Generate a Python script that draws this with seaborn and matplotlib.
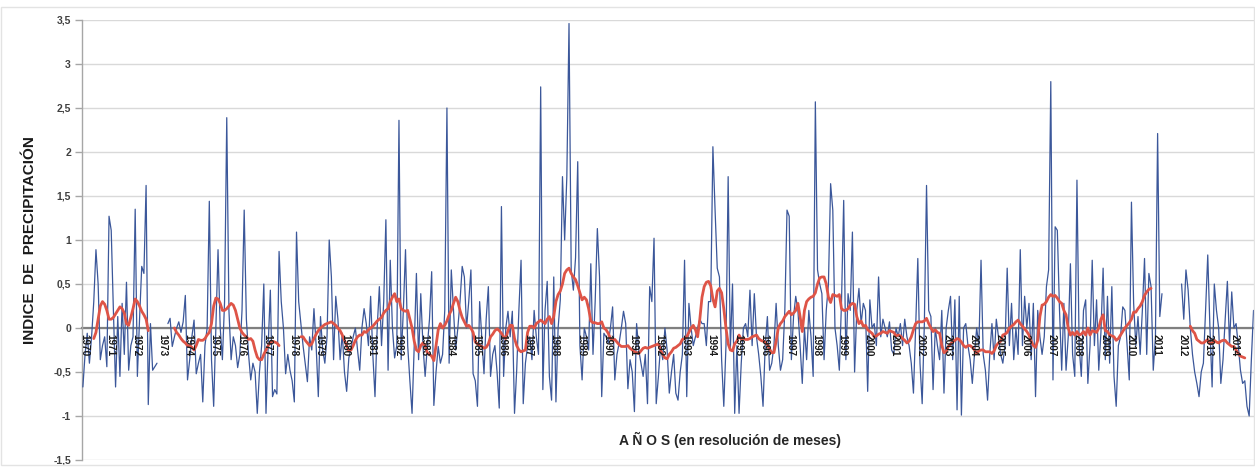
import numpy as np
import pandas as pd
import matplotlib
matplotlib.use("Agg")
import matplotlib.pyplot as plt
import seaborn as sns
from matplotlib import font_manager as fm
from matplotlib.patches import Rectangle

nan = float("nan")

# ---------------- data: monthly precipitation index (blue) ----------------
ind_1970 = [-0.67, -0.3, -0.06, -0.4, -0.1, 0.3, 0.89, 0.5, -0.36, -0.2, -0.1, -0.44]
ind_1971 = [1.27, 1.11, 0.2, -0.67, 0.13, -0.55, 0.28, -0.3, 0.52, -0.48, -0.2, -0.1]
ind_1972 = [1.35, -0.55, 0.1, 0.7, 0.62, 1.62, -0.87, 0.05, -0.48, -0.44, -0.4, nan]
ind_1973 = [nan, nan, nan, 0.05, 0.11, -0.21, -0.1, 0.0, 0.07, -0.05, 0.07, 0.37]
ind_1974 = [-0.59, -0.36, -0.1, 0.09, -0.52, -0.4, -0.3, -0.84, -0.2, 0.0, 1.44, -0.36]
ind_1975 = [-0.89, 0.0, 0.89, 0.0, -0.36, 0.3, 2.39, 0.2, -0.36, -0.1, -0.2, -0.45]
ind_1976 = [-0.3, 0.2, 1.34, 0.1, -0.3, -0.59, -0.4, -0.5, -0.97, -0.5, -0.2, 0.5]
ind_1977 = [-0.97, -0.2, 0.43, -0.78, -0.7, -0.75, 0.87, 0.3, 0.0, -0.52, -0.3, -0.48]
ind_1978 = [-0.6, -0.84, 1.09, 0.3, 0.05, -0.2, -0.4, -0.61, -0.1, -0.25, 0.22, -0.2]
ind_1979 = [-0.78, 0.13, -0.25, -0.4, -0.1, 1.0, 0.58, -0.36, 0.36, 0.1, -0.36, -0.06]
ind_1980 = [-0.5, -0.72, -0.34, -0.23, -0.1, 0.0, -0.25, -0.48, 0.0, 0.22, 0.05, -0.2]
ind_1981 = [0.36, -0.3, -0.78, 0.0, 0.47, -0.2, 0.3, 1.23, -0.48, 0.77, 0.0, -0.34]
ind_1982 = [-0.2, 2.36, -0.36, 0.2, 0.89, -0.2, -0.6, -0.97, -0.2, 0.62, -0.36, 0.39]
ind_1983 = [-0.2, -0.55, -0.21, 0.1, 0.64, -0.88, -0.5, -0.21, -0.4, -0.3, 0.2, 2.5]
ind_1984 = [-0.4, 0.66, 0.2, -0.25, 0.0, 0.3, 0.7, 0.58, 0.0, 0.3, 0.66, -0.52]
ind_1985 = [-0.6, -0.89, 0.3, -0.1, -0.52, 0.1, 0.47, -0.55, -0.3, -0.2, -0.5, -0.91]
ind_1986 = [1.38, -0.55, 0.0, 0.19, -0.1, 0.19, -0.97, -0.48, 0.2, 0.77, -0.86, -0.4]
ind_1987 = [-0.2, -0.1, -0.36, 0.2, -0.1, -0.3, 2.74, -0.7, 0.2, 0.53, -0.55, -0.82]
ind_1988 = [0.58, -0.84, 0.0, 0.32, 1.72, 1.0, 1.72, 3.46, 0.66, 0.43, 0.8, 1.89]
ind_1989 = [-0.2, -0.59, 0.0, -0.1, -0.25, 0.73, -0.3, 0.3, 1.13, 0.58, -0.78, -0.06]
ind_1990 = [-0.1, -0.17, 0.0, 0.24, -0.59, -0.3, -0.17, 0.0, 0.19, 0.05, -0.69, -0.36]
ind_1991 = [-0.5, -0.95, 0.05, -0.25, -0.4, -0.55, -0.3, -0.86, 0.47, 0.3, 1.02, -0.86]
ind_1992 = [-0.55, -0.2, -0.36, 0.0, -0.25, -0.74, -0.5, -0.3, -0.74, -0.82, -0.5, -0.3]
ind_1993 = [0.77, -0.78, 0.28, 0.0, -0.2, -0.1, 0.0, 0.1, 0.05, 0.05, -0.2, 0.3]
ind_1994 = [0.3, 2.06, 1.34, 0.68, 0.58, -0.36, -0.89, -0.2, 1.72, -0.25, 0.5, -0.97]
ind_1995 = [-0.2, -0.97, -0.4, 0.0, 0.05, -0.1, 0.43, -0.2, 0.39, -0.1, -0.3, -0.55]
ind_1996 = [-0.89, -0.2, 0.13, -0.48, -0.4, -0.2, 0.28, -0.2, -0.48, -0.36, 0.2, 1.34]
ind_1997 = [1.27, -0.36, 0.13, 0.36, 0.2, -0.2, -0.63, 0.0, -0.36, 0.2, -0.1, -0.55]
ind_1998 = [2.57, 0.66, 0.5, 0.39, -0.36, 0.2, 0.5, 1.64, 1.34, 0.0, -0.2, -0.48]
ind_1999 = [0.3, 1.45, -0.36, 0.39, 0.2, 1.09, -0.5, 0.2, 0.45, 0.05, 0.28, 0.2]
ind_2000 = [-0.72, 0.32, 0.0, 0.05, -0.2, 0.58, -0.1, 0.1, 0.0, -0.1, 0.07, -0.25]
ind_2001 = [-0.3, 0.0, -0.1, 0.05, -0.2, 0.1, -0.1, -0.2, -0.4, -0.74, 0.0, 0.79]
ind_2002 = [-0.4, -0.86, 0.05, 1.62, 0.2, 0.13, -0.7, 0.0, -0.2, -0.36, 0.2, -0.74]
ind_2003 = [0.0, 0.2, 0.36, -0.36, 0.32, -0.93, 0.36, -0.99, 0.0, 0.05, -0.2, -0.36]
ind_2004 = [-0.63, -0.3, 0.0, -0.2, 0.77, -0.3, -0.48, -0.82, -0.3, 0.05, -0.36, 0.1]
ind_2005 = [-0.1, -0.3, -0.4, -0.2, 0.68, -0.2, 0.28, -0.36, 0.0, -0.3, 0.89, -0.2]
ind_2006 = [0.36, 0.0, 0.28, -0.36, 0.28, -0.78, 0.2, -0.1, -0.3, -0.1, 0.47, 0.66]
ind_2007 = [2.8, -0.59, 1.15, 1.11, 0.2, -0.48, 0.28, -0.48, -0.1, 0.73, -0.3, -0.55]
ind_2008 = [1.68, -0.2, -0.55, 0.2, 0.32, -0.63, -0.2, 0.77, -0.2, 0.32, -0.48, -0.05]
ind_2009 = [0.68, -0.36, 0.36, -0.4, 0.47, -0.55, -0.89, -0.2, -0.1, 0.24, 0.2, -0.2]
ind_2010 = [-0.59, 1.43, 0.28, -0.2, 0.13, -0.3, 0.2, 0.79, -0.3, 0.62, 0.47, -0.48]
ind_2011 = [-0.1, 2.21, 0.13, 0.39, nan, nan, nan, nan, nan, nan, nan, nan]
ind_2012 = [0.5, 0.1, 0.66, 0.43, 0.0, -0.3, -0.5, -0.63, -0.78, -0.5, -0.4, 0.2]
ind_2013 = [0.83, 0.0, -0.67, 0.5, 0.2, 0.0, -0.63, -0.36, 0.1, 0.53, -0.2, 0.41]
ind_2014 = [0.0, 0.05, -0.2, -0.48, -0.63, -0.6, -0.89, -1.0, -0.36, 0.2]

# ---------------- data: moving average (red) ----------------
mm_1970 = [nan, nan, nan, nan, nan, -0.12, -0.05, 0.1, 0.25, 0.3, 0.27, 0.2]
mm_1971 = [0.1, 0.1, 0.12, 0.16, 0.2, 0.24, 0.22, 0.17, 0.05, 0.03, 0.12, 0.22]
mm_1972 = [0.33, 0.3, 0.25, 0.19, 0.15, 0.1, -0.03, nan, nan, nan, nan, nan]
mm_1973 = [nan, nan, nan, nan, nan, nan, 0.0, -0.05, -0.08, -0.12, -0.15, -0.17]
mm_1974 = [-0.2, -0.2, -0.22, -0.25, -0.2, -0.13, -0.14, -0.14, -0.12, -0.08, -0.05, 0.05]
mm_1975 = [0.25, 0.34, 0.33, 0.28, 0.2, 0.2, 0.22, 0.25, 0.28, 0.26, 0.2, 0.1]
mm_1976 = [0.0, -0.05, -0.08, -0.1, -0.13, -0.12, -0.15, -0.25, -0.33, -0.36, -0.36, -0.3]
mm_1977 = [-0.25, -0.2, -0.16, -0.15, -0.16, -0.17, -0.2, nan, nan, nan, nan, nan]
mm_1978 = [nan, nan, nan, nan, -0.1, -0.1, -0.14, -0.17, -0.2, -0.18, -0.12, -0.07]
mm_1979 = [-0.03, 0.0, 0.02, 0.04, 0.05, 0.06, 0.07, 0.05, 0.03, 0.0, -0.03, -0.08]
mm_1980 = [-0.14, -0.2, -0.26, -0.25, -0.2, -0.14, -0.1, -0.08, -0.08, -0.04, -0.05, -0.02]
mm_1981 = [0.0, 0.02, 0.05, 0.08, 0.1, 0.12, 0.17, 0.2, 0.22, 0.3, 0.35, 0.39]
mm_1982 = [0.3, 0.33, 0.22, 0.2, 0.19, 0.2, 0.1, 0.0, -0.15, -0.25, -0.27, -0.2]
mm_1983 = [-0.17, -0.2, -0.28, -0.3, -0.32, -0.37, -0.2, -0.02, 0.05, 0.0, 0.03, 0.08]
mm_1984 = [0.15, 0.2, 0.28, 0.35, 0.3, 0.2, 0.12, 0.07, 0.02, 0.03, 0.0, -0.05]
mm_1985 = [-0.16, -0.18, -0.2, -0.21, -0.23, -0.22, -0.18, -0.1, -0.07, -0.03, -0.01, -0.03]
mm_1986 = [-0.06, -0.1, -0.12, -0.03, 0.03, 0.03, -0.12, -0.2, -0.25, -0.27, -0.26, -0.25]
mm_1987 = [-0.05, 0.02, 0.02, 0.0, 0.05, 0.07, 0.09, 0.07, 0.05, 0.1, 0.13, 0.05]
mm_1988 = [0.13, 0.3, 0.38, 0.42, 0.5, 0.62, 0.66, 0.68, 0.62, 0.58, 0.55, 0.48]
mm_1989 = [0.4, 0.32, 0.35, 0.32, 0.22, 0.08, 0.06, 0.06, 0.05, 0.05, 0.07, 0.0]
mm_1990 = [-0.02, -0.06, -0.12, -0.14, -0.13, -0.16, -0.19, -0.21, -0.21, -0.21, -0.2, -0.23]
mm_1991 = [-0.25, -0.27, -0.28, -0.29, -0.26, -0.23, -0.22, -0.23, -0.22, -0.21, -0.2, -0.19]
mm_1992 = [-0.18, -0.25, -0.3, -0.34, -0.35, -0.3, -0.27, -0.23, -0.22, -0.2, -0.18, -0.13]
mm_1993 = [-0.12, -0.1, -0.05, 0.0, 0.03, -0.02, -0.1, 0.1, 0.35, 0.47, 0.52, 0.53]
mm_1994 = [0.48, 0.33, 0.24, 0.42, 0.45, 0.4, 0.22, 0.0, -0.18, -0.25, -0.26, -0.18]
mm_1995 = [-0.15, -0.08, -0.13, -0.12, -0.13, -0.13, -0.12, -0.1, -0.09, -0.08, -0.12, -0.14]
mm_1996 = [-0.15, -0.16, -0.19, -0.24, -0.28, -0.28, -0.15, 0.0, 0.05, 0.08, 0.13, 0.16]
mm_1997 = [0.19, 0.15, 0.17, 0.2, 0.28, 0.13, -0.04, 0.2, 0.3, 0.33, 0.35, 0.36]
mm_1998 = [0.4, 0.5, 0.57, 0.58, 0.58, 0.5, 0.35, 0.29, 0.38, 0.37, 0.36, 0.38]
mm_1999 = [0.22, 0.2, 0.2, 0.22, 0.26, 0.28, 0.27, 0.13, 0.05, 0.08, 0.02, 0.03]
mm_2000 = [-0.02, -0.04, -0.06, -0.1, -0.09, -0.07, -0.06, -0.04, -0.05, -0.06, -0.03, -0.04]
mm_2001 = [-0.05, -0.09, -0.08, -0.09, -0.12, -0.14, -0.17, -0.15, -0.1, -0.02, 0.05, 0.07]
mm_2002 = [0.07, 0.07, 0.08, 0.11, 0.05, 0.0, -0.04, -0.02, -0.05, -0.06, -0.2, -0.28]
mm_2003 = [-0.27, -0.21, -0.18, -0.16, -0.14, -0.12, -0.13, -0.16, -0.2, -0.22, -0.2, -0.2]
mm_2004 = [-0.22, -0.25, -0.29, -0.26, -0.25, -0.25, -0.27, -0.27, -0.27, -0.29, -0.26, -0.2]
mm_2005 = [-0.17, -0.15, -0.08, -0.07, -0.05, 0.0, 0.02, 0.04, 0.07, 0.09, 0.05, 0.02]
mm_2006 = [-0.01, -0.04, -0.08, -0.15, -0.2, -0.22, -0.14, 0.13, 0.26, 0.27, 0.3, 0.35]
mm_2007 = [0.38, 0.36, 0.37, 0.34, 0.3, 0.28, 0.2, 0.15, 0.0, -0.08, -0.05, -0.08]
mm_2008 = [-0.04, -0.08, -0.07, -0.04, -0.08, 0.0, -0.08, -0.03, -0.04, -0.05, 0.0, 0.1]
mm_2009 = [0.15, -0.03, -0.04, -0.08, -0.09, -0.1, -0.14, -0.12, -0.08, -0.04, 0.0, 0.03]
mm_2010 = [0.06, 0.1, 0.18, 0.18, 0.22, 0.25, 0.3, 0.37, 0.41, 0.44, 0.45, nan]
mm_2011 = [nan, nan, nan, nan, nan, nan, nan, nan, nan, nan, nan, nan]
mm_2012 = [nan, nan, nan, nan, 0.02, -0.03, -0.06, -0.13, -0.15, -0.17, -0.17, -0.15]
mm_2013 = [-0.13, -0.18, -0.17, -0.14, -0.16, -0.17, -0.15, -0.14, -0.14, -0.17, -0.19, -0.21]
mm_2014 = [-0.21, -0.25, -0.29, -0.32, -0.33, -0.34, nan, nan, nan, nan]

anios = list(range(1970, 2015))
y_ticks = [-1.5, -1.0, -0.5, 0.0, 0.5, 1.0, 1.5, 2.0, 2.5, 3.0, 3.5]
y_labels = ["-1,5", "-1", "-0,5", "0", "0,5", "1", "1,5", "2", "2,5", "3", "3,5"]
titulo_y = "INDICE  DE  PRECIPITACIÓN"
titulo_x = "A Ñ O S (en resolución de meses)"

indice = (ind_1970 + ind_1971 + ind_1972 + ind_1973 + ind_1974 + ind_1975 + ind_1976 +
          ind_1977 + ind_1978 + ind_1979 + ind_1980 + ind_1981 + ind_1982 + ind_1983 +
          ind_1984 + ind_1985 + ind_1986 + ind_1987 + ind_1988 + ind_1989 + ind_1990 +
          ind_1991 + ind_1992 + ind_1993 + ind_1994 + ind_1995 + ind_1996 + ind_1997 +
          ind_1998 + ind_1999 + ind_2000 + ind_2001 + ind_2002 + ind_2003 + ind_2004 +
          ind_2005 + ind_2006 + ind_2007 + ind_2008 + ind_2009 + ind_2010 + ind_2011 +
          ind_2012 + ind_2013 + ind_2014)
media = (mm_1970 + mm_1971 + mm_1972 + mm_1973 + mm_1974 + mm_1975 + mm_1976 +
         mm_1977 + mm_1978 + mm_1979 + mm_1980 + mm_1981 + mm_1982 + mm_1983 +
         mm_1984 + mm_1985 + mm_1986 + mm_1987 + mm_1988 + mm_1989 + mm_1990 +
         mm_1991 + mm_1992 + mm_1993 + mm_1994 + mm_1995 + mm_1996 + mm_1997 +
         mm_1998 + mm_1999 + mm_2000 + mm_2001 + mm_2002 + mm_2003 + mm_2004 +
         mm_2005 + mm_2006 + mm_2007 + mm_2008 + mm_2009 + mm_2010 + mm_2011 +
         mm_2012 + mm_2013 + mm_2014)


def tramos(valores):
    v = np.asarray(valores, dtype=float)
    mes = np.arange(len(v))
    seg = np.cumsum(np.isnan(v))
    df = pd.DataFrame({"mes": mes, "valor": v, "tramo": seg})
    return df.dropna()


df_ind = tramos(indice)
df_mm = tramos(media)

# ---------------- style ----------------
sns.set_theme(style="white")
names = {f.name for f in fm.fontManager.ttflist}
FAM = "Liberation Sans Narrow" if "Liberation Sans Narrow" in names else "Liberation Sans"
plt.rcParams["font.family"] = [FAM, "DejaVu Sans"]

W, H = 1255, 468
fig = plt.figure(figsize=(W / 100, H / 100), dpi=100)
fig.patch.set_facecolor("white")
x0, x1, ytop, ybot = 82, 1255, 20, 460
ax = fig.add_axes([x0 / W, 1 - ybot / H, (x1 - x0) / W, (ybot - ytop) / H])

# spines first (repositioning resets tick objects)
for s in ["top", "right"]:
    ax.spines[s].set_visible(False)
ax.spines["bottom"].set_position(("data", 0))
ax.spines["left"].set_color("#A6A6A6")
ax.spines["left"].set_linewidth(1.0)
ax.spines["bottom"].set_color("#808080")
ax.spines["bottom"].set_linewidth(1.6)
ax.spines["bottom"].set_zorder(2)

# horizontal gridlines
ax.set_axisbelow(True)
ax.yaxis.grid(True, color="#D9D9D9", linewidth=1.0)
ax.xaxis.grid(False)

sns.lineplot(data=df_ind, x="mes", y="valor", units="tramo", estimator=None, sort=False,
             color="#3B579A", linewidth=0.9, ax=ax, zorder=3)
sns.lineplot(data=df_mm, x="mes", y="valor", units="tramo", estimator=None, sort=False,
             color="#DE5447", linewidth=2.0, ax=ax, zorder=4)

ax.set_ylim(-1.5, 3.5)
ax.set_xlim(-0.4, (x1 - x0) / 2.18 - 0.4)
ax.set_xlabel("")
ax.set_ylabel("")
ax.set_yticks(y_ticks)
ax.set_yticklabels(y_labels)
ax.set_xticks([12 * (a - 1970) + 0.5 for a in anios])
ax.set_xticklabels([str(a) for a in anios])
ax.tick_params(axis="x", length=0, pad=4)
ax.tick_params(axis="y", length=5, width=1, color="#A6A6A6", pad=3, left=True)
for t in ax.get_xticklabels():
    t.set_rotation(-90)
    t.set_fontsize(7.2)
    t.set_fontweight("bold")
    t.set_color("#1A1A1A")
    t.set_ha("center")
    t.set_va("top")
for t in ax.get_yticklabels():
    t.set_fontsize(7.5)
    t.set_fontweight("bold")
    t.set_color("#404040")
# year labels drawn over the series, as in the reference
ax.xaxis.set_zorder(5)

fig.text(30 / W, 1 - 240 / H, titulo_y, rotation=90, ha="center", va="center",
         fontsize=11, fontweight="bold", color="#1A1A1A")
fig.text(730 / W, 1 - 440 / H, titulo_x, ha="center", va="center",
         fontsize=10, fontweight="bold", color="#262626")

# chart-area border
fig.add_artist(Rectangle((1 / W, 1 - 465 / H), (W - 2) / W, (465 - 7) / H,
                         transform=fig.transFigure, fill=False,
                         edgecolor="#E3E3E3", linewidth=1.0))

fig.savefig("out.png", dpi=100, facecolor="white")
